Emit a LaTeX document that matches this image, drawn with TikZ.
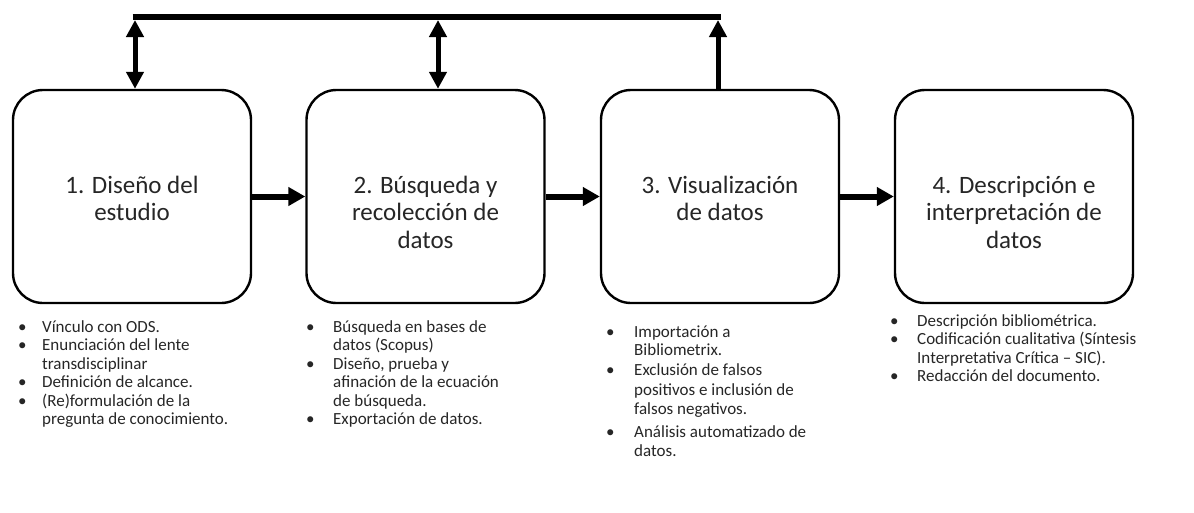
\documentclass[tikz,border=0pt]{standalone}
\usepackage{fontspec}
\setmainfont{Carlito}
\usetikzlibrary{arrows.meta}
\begin{document}
\begin{tikzpicture}[x=1pt,y=-1pt,
  box/.style={draw, line width=2.4pt, rounded corners=30pt, minimum width=238pt, minimum height=213pt, inner sep=0pt},
  flow/.style={line width=6pt, -{Triangle[length=17pt,width=18pt]}},
  vlink/.style={line width=5pt, {Triangle[length=17pt,width=17pt]}-{Triangle[length=17pt,width=17pt]}},
  uplink/.style={line width=5pt, -{Triangle[length=17pt,width=17pt]}},
  bar/.style={line width=6pt},
  lbl/.style={anchor=base, inner sep=0pt, text=black!85, font=\fontsize{25}{27.5}\selectfont},
  lst/.style={anchor=base west, inner sep=0pt, text=black!85, font=\fontsize{17}{18.5}\selectfont}]
\useasboundingbox (0,0) rectangle (1194,512);

% boxes
\node[box] (b1) at (132,196.5) {};
\node[box] (b2) at (425.5,196.5) {};
\node[box] (b3) at (720,196.5) {};
\node[box] (b4) at (1014,196.5) {};

% box labels
\node[lbl] (l1) at (132,193) {\begin{tabular}[t]{@{}c@{}}1. Diseño del\\ estudio\end{tabular}};
\node[lbl] (l2) at (425.5,193) {\begin{tabular}[t]{@{}c@{}}2. Búsqueda y\\ recolección de\\ datos\end{tabular}};
\node[lbl] (l3) at (720,193) {\begin{tabular}[t]{@{}c@{}}3. Visualización\\ de datos\end{tabular}};
\node[lbl] (l4) at (1014,193) {\begin{tabular}[t]{@{}c@{}}4. Descripción e\\ interpretación de\\ datos\end{tabular}};

% flow arrows
\draw[flow] (b1.east) -- (b2.west);
\draw[flow] (b2.east) -- (b3.west);
\draw[flow] (b3.east) -- (b4.west);

% feedback bar
\coordinate (j1) at (135,20);
\coordinate (j2) at (438,20);
\coordinate (j3) at (718,20);
\coordinate (bl) at (132.5,17);
\coordinate (br) at (720.5,17);
\draw[bar] (bl) -- (br);
\draw[vlink] (j1 |- b1.north) -- (j1);
\draw[vlink] (j2 |- b2.north) -- (j2);
\draw[uplink] (j3 |- b3.north) -- (j3);

% lists
\node[lst] (d1) at (18,332) {\begin{tabular}[t]{@{}p{24pt}@{}l@{}}
\textbullet & Vínculo con ODS.\\
\textbullet & Enunciación del lente\\
 & transdisciplinar\\
\textbullet & Definición de alcance.\\
\textbullet & (Re)formulación de la\\
 & pregunta de conocimiento.
\end{tabular}};
\node[lst] (d2) at (306,332) {\begin{tabular}[t]{@{}p{27pt}@{}l@{}}
\textbullet & Búsqueda en bases de\\
 & datos (Scopus)\\
\textbullet & Diseño, prueba y\\
 & afinación de la ecuación\\
 & de búsqueda.\\
\textbullet & Exportación de datos.
\end{tabular}};
\node[lst] (d3) at (606,337) {\begin{tabular}[t]{@{}p{28pt}@{}l@{}}
\textbullet & Importación a\\
 & Bibliometrix.\\[1.5pt]
\textbullet & Exclusión de falsos\\[1pt]
 & positivos e inclusión de\\[1pt]
 & falsos negativos.\\[4pt]
\textbullet & Análisis automatizado de\\[1pt]
 & datos.
\end{tabular}};
\node[lst] (d4) at (890,326) {\begin{tabular}[t]{@{}p{27pt}@{}l@{}}
\textbullet & Descripción bibliométrica.\\
\textbullet & Codificación cualitativa (Síntesis\\
 & Interpretativa Crítica – SIC).\\
\textbullet & Redacción del documento.
\end{tabular}};
\end{tikzpicture}
\end{document}
